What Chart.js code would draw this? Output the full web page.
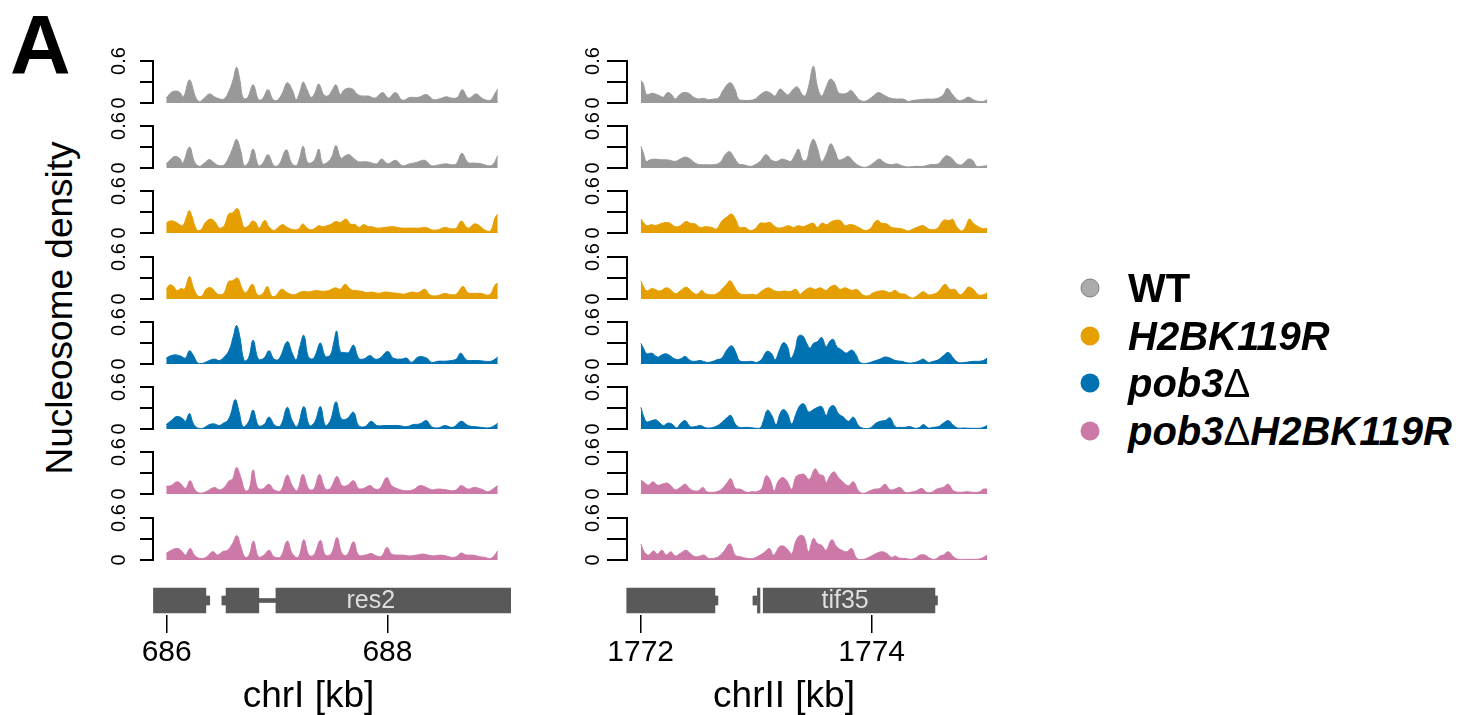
<!DOCTYPE html>
<html>
<head>
<meta charset="utf-8">
<script src="https://cdn.jsdelivr.net/npm/chart.js@4.4.1/dist/chart.umd.min.js"></script>
<style>
  html, body { margin: 0; padding: 0; background: #fff; }
  body { width: 1479px; height: 715px; position: relative; overflow: hidden;
         font-family: 'Liberation Sans', Arial, Helvetica, sans-serif; color: #000; }
  canvas { position: absolute; }
  #panel { position: absolute; left: 10px; top: 3px; font-size: 84px; font-weight: bold; line-height: 1; }
  #ylab { position: absolute; left: 60px; top: 308px; font-size: 37px; white-space: nowrap;
          transform: translate(-50%, -50%) rotate(-90deg); }
  .key { position: absolute; font-size: 40px; font-weight: bold; white-space: nowrap; line-height: 1;
         transform: translateY(-50%); }
  .key i { font-style: italic; }
  .key .delta { font-style: normal; font-weight: normal; }
  .dot { position: absolute; width: 19px; height: 19px; border-radius: 50%; box-sizing: border-box;
         transform: translate(-50%, -50%); }
</style>
</head>
<body>
<div id="panel">A</div>
<div id="ylab">Nucleosome density</div>
<script>
// strains, top to bottom two replicates each
const strains = ['WT', 'H2BK119R', 'pob3\u0394', 'pob3\u0394H2BK119R'];
const strainColors = ['#999999', '#E69F00', '#0072B2', '#CC79A7'];

const yTicks = [0, 0.3, 0.6];
const yTickLabels = ['0', '', '0.6'];

// windows (kb) and axis ticks
const startI = 686, startII = 1772;
const xTicksI = [686, 688], xTicksII = [1772, 1774];
const titleI = 'chrI [kb]', titleII = 'chrII [kb]';

// gene models [start, end] in kb
const exonsI = [[685.88, 686.355], [686.538, 686.835], [686.99, 689.12]];
const intronsI = [[686.835, 686.99]];
const endsI = [[686.355, 686.39], [686.50, 686.538]];
const geneNamesI = ['res2'], geneMidsI = [687.85];

const exonsII = [[1771.879, 1772.643], [1773.011, 1773.033], [1773.061, 1774.548]];
const intronsII = [];
const endsII = [[1772.643, 1772.669], [1772.972, 1773.007], [1774.548, 1774.57]];
const geneNamesII = ['tif35'], geneMidsII = [1773.77];

// nucleosome density, [bp from window start, density]
const chrI_WT_1 = [[0,.07],[45,.15],[84,.17],[120,.155],[156,.09],[210,.33],[264,.09],[300,.02],[345,.07],[390,.13],[435,.09],[480,.06],[525,.06],[570,.18],[606,.34],[636,.51],[666,.33],[696,.07],[735,.075],[786,.26],[834,.05],[870,.06],[921,.19],[966,.05],[1005,.04],[1050,.14],[1095,.29],[1140,.19],[1176,.05],[1209,.16],[1239,.30],[1275,.19],[1311,.08],[1344,.14],[1380,.27],[1425,.12],[1464,.10],[1500,.18],[1536,.26],[1575,.12],[1605,.18],[1644,.21],[1686,.20],[1725,.13],[1770,.10],[1830,.10],[1890,.07],[1959,.15],[2010,.07],[2076,.15],[2136,.04],[2205,.08],[2280,.08],[2355,.12],[2415,.05],[2475,.06],[2535,.09],[2580,.07],[2634,.08],[2679,.19],[2736,.07],[2805,.13],[2865,.06],[2934,.04],[2976,.14],[3000,.20]];
const chrI_WT_2 = [[0,.06],[45,.13],[75,.165],[120,.14],[150,.07],[210,.30],[255,.09],[300,.024],[345,.07],[390,.12],[435,.07],[480,.033],[525,.047],[570,.165],[600,.28],[636,.41],[675,.24],[705,.033],[744,.08],[786,.27],[834,.033],[870,.06],[921,.19],[975,.033],[1020,.047],[1086,.26],[1134,.07],[1176,.033],[1206,.14],[1239,.31],[1275,.09],[1305,.07],[1344,.12],[1380,.27],[1416,.06],[1464,.09],[1500,.165],[1536,.32],[1581,.14],[1620,.175],[1656,.19],[1695,.14],[1740,.09],[1800,.09],[1845,.08],[1905,.06],[1950,.13],[2004,.06],[2076,.11],[2136,.033],[2205,.06],[2265,.08],[2340,.11],[2400,.033],[2475,.047],[2535,.06],[2580,.047],[2625,.06],[2676,.21],[2730,.08],[2790,.07],[2850,.06],[2910,.033],[2955,.047],[3000,.175]];
const chrI_K119R_1 = [[0,.14],[30,.17],[75,.165],[120,.12],[150,.105],[186,.24],[207,.32],[228,.26],[276,.046],[315,.046],[354,.15],[405,.20],[450,.14],[480,.07],[525,.105],[564,.27],[600,.29],[645,.35],[675,.22],[705,.08],[744,.105],[780,.17],[810,.15],[840,.07],[891,.18],[930,.09],[975,.037],[1020,.09],[1056,.12],[1095,.08],[1155,.046],[1200,.06],[1236,.13],[1275,.07],[1320,.046],[1380,.105],[1416,.09],[1455,.105],[1485,.12],[1536,.165],[1575,.15],[1626,.20],[1665,.13],[1710,.12],[1746,.08],[1785,.12],[1830,.09],[1866,.09],[1905,.07],[1980,.08],[2055,.09],[2130,.07],[2220,.07],[2295,.07],[2355,.08],[2400,.046],[2460,.046],[2520,.08],[2580,.06],[2625,.07],[2670,.17],[2730,.07],[2790,.13],[2835,.105],[2880,.046],[2934,.03],[2976,.22],[3000,.27]];
const chrI_K119R_2 = [[0,.14],[30,.20],[66,.18],[96,.12],[135,.15],[165,.14],[210,.32],[246,.16],[285,.045],[324,.045],[360,.14],[405,.16],[450,.09],[486,.06],[525,.09],[564,.25],[600,.26],[645,.30],[684,.16],[720,.09],[780,.21],[825,.06],[870,.07],[915,.18],[954,.045],[990,.045],[1044,.14],[1095,.09],[1155,.06],[1200,.09],[1245,.11],[1290,.10],[1350,.12],[1410,.11],[1470,.12],[1530,.16],[1575,.14],[1620,.21],[1665,.14],[1710,.12],[1770,.11],[1815,.09],[1860,.10],[1920,.08],[1980,.10],[2040,.09],[2100,.08],[2160,.07],[2220,.10],[2280,.09],[2340,.14],[2385,.06],[2445,.045],[2520,.08],[2580,.06],[2625,.07],[2685,.18],[2730,.09],[2790,.08],[2850,.08],[2925,.06],[2976,.20],[3000,.23]];
const chrI_pob3_1 = [[0,.085],[45,.12],[90,.13],[135,.11],[174,.085],[210,.19],[246,.12],[285,.014],[330,.01],[375,.04],[435,.07],[480,.05],[525,.10],[570,.20],[606,.39],[636,.55],[666,.39],[705,.05],[744,.085],[786,.34],[834,.07],[885,.085],[930,.19],[975,.07],[1020,.07],[1095,.32],[1140,.155],[1176,.06],[1209,.25],[1245,.41],[1284,.11],[1320,.07],[1350,.13],[1395,.30],[1440,.11],[1485,.13],[1515,.30],[1542,.47],[1575,.18],[1614,.165],[1650,.165],[1695,.27],[1740,.085],[1785,.07],[1845,.12],[1890,.07],[1935,.085],[2004,.18],[2055,.085],[2130,.07],[2175,.085],[2220,.023],[2280,.10],[2355,.085],[2400,.023],[2460,.04],[2520,.04],[2580,.05],[2625,.07],[2664,.155],[2715,.06],[2760,.05],[2820,.05],[2880,.04],[2940,.04],[2976,.07],[3000,.10]];
const chrI_pob3_2 = [[0,.063],[45,.12],[96,.18],[150,.146],[174,.11],[210,.22],[246,.073],[285,.015],[330,.01],[390,.063],[435,.073],[480,.05],[516,.083],[555,.12],[585,.22],[624,.42],[660,.24],[696,.034],[744,.10],[786,.27],[834,.05],[885,.063],[930,.17],[984,.05],[1035,.05],[1095,.31],[1140,.12],[1185,.034],[1245,.32],[1296,.05],[1344,.10],[1395,.32],[1440,.05],[1485,.12],[1536,.39],[1584,.146],[1635,.146],[1695,.24],[1740,.05],[1800,.034],[1854,.11],[1905,.05],[1980,.05],[2040,.05],[2100,.05],[2175,.034],[2235,.063],[2295,.073],[2355,.12],[2400,.034],[2460,.015],[2520,.05],[2580,.024],[2610,.034],[2670,.11],[2730,.05],[2790,.034],[2850,.024],[2910,.015],[2955,.034],[3000,.083]];
const chrI_dbl_1 = [[0,.11],[45,.12],[96,.175],[135,.14],[174,.08],[216,.19],[255,.07],[300,.014],[360,.033],[435,.094],[480,.06],[525,.094],[570,.19],[600,.21],[636,.38],[675,.236],[714,.047],[750,.07],[786,.345],[825,.094],[870,.07],[930,.14],[975,.06],[1035,.047],[1095,.27],[1140,.12],[1185,.047],[1236,.28],[1290,.07],[1335,.07],[1386,.28],[1440,.07],[1485,.08],[1545,.25],[1590,.12],[1635,.12],[1695,.19],[1740,.08],[1785,.08],[1845,.12],[1890,.07],[1935,.08],[1995,.236],[2040,.12],[2100,.07],[2160,.047],[2235,.06],[2295,.12],[2355,.094],[2400,.06],[2460,.07],[2535,.06],[2580,.047],[2625,.06],[2670,.12],[2730,.07],[2790,.094],[2850,.07],[2910,.033],[2955,.07],[3000,.12]];
const chrI_dbl_2 = [[0,.094],[45,.14],[105,.165],[144,.12],[174,.07],[216,.165],[255,.07],[300,.024],[360,.038],[420,.12],[465,.07],[510,.12],[555,.14],[600,.236],[639,.35],[675,.19],[714,.038],[750,.07],[789,.27],[834,.047],[885,.07],[930,.14],[975,.047],[1035,.047],[1095,.27],[1140,.094],[1194,.038],[1245,.29],[1290,.07],[1335,.07],[1395,.28],[1440,.07],[1494,.094],[1545,.32],[1590,.094],[1635,.07],[1695,.26],[1740,.07],[1800,.07],[1854,.094],[1905,.057],[1950,.057],[1998,.18],[2040,.085],[2100,.07],[2145,.07],[2205,.057],[2265,.07],[2325,.085],[2370,.07],[2415,.057],[2475,.07],[2535,.057],[2580,.038],[2625,.047],[2670,.10],[2715,.07],[2775,.07],[2835,.047],[2880,.038],[2940,.024],[3000,.13]];

const chrII_WT_1 = [[0,.32],[17,.29],[38,.164],[52,.117],[95,.14],[124,.13],[167,.10],[196,.084],[231,.15],[268,.117],[297,.056],[335,.117],[369,.15],[413,.14],[456,.084],[499,.056],[543,.066],[586,.047],[629,.056],[672,.07],[716,.19],[773,.29],[817,.19],[846,.056],[889,.038],[947,.038],[990,.056],[1033,.117],[1085,.164],[1134,.13],[1163,.10],[1206,.20],[1250,.14],[1278,.117],[1322,.20],[1356,.23],[1394,.13],[1423,.10],[1452,.23],[1495,.525],[1530,.23],[1567,.10],[1605,.225],[1639,.34],[1674,.30],[1711,.15],[1749,.13],[1784,.14],[1818,.18],[1856,.117],[1885,.056],[1928,.023],[1971,.047],[2014,.10],[2058,.15],[2101,.117],[2159,.07],[2216,.056],[2274,.056],[2317,.023],[2361,.038],[2418,.047],[2476,.056],[2534,.056],[2577,.07],[2620,.117],[2655,.21],[2701,.117],[2750,.038],[2794,.047],[2837,.084],[2880,.047],[2924,.023],[2967,.023],[3000,.047]];
const chrII_WT_2 = [[0,.31],[23,.21],[46,.094],[81,.118],[124,.127],[167,.118],[211,.118],[254,.11],[297,.094],[341,.127],[384,.156],[427,.127],[470,.07],[514,.047],[571,.047],[629,.047],[687,.08],[730,.19],[768,.236],[802,.165],[846,.06],[889,.047],[947,.024],[990,.047],[1033,.094],[1085,.19],[1134,.11],[1177,.094],[1221,.127],[1264,.11],[1299,.094],[1336,.19],[1365,.27],[1403,.11],[1437,.118],[1466,.31],[1495,.41],[1530,.28],[1567,.094],[1605,.19],[1645,.345],[1683,.236],[1711,.118],[1749,.127],[1798,.165],[1841,.094],[1899,.024],[1957,.014],[2014,.07],[2066,.127],[2115,.07],[2173,.047],[2216,.06],[2260,.033],[2317,.014],[2375,.024],[2447,.024],[2505,.047],[2577,.06],[2620,.14],[2649,.175],[2693,.14],[2736,.06],[2779,.047],[2837,.127],[2874,.11],[2909,.024],[2952,.024],[3000,.033]];
const chrII_K119R_1 = [[0,.20],[23,.15],[52,.105],[95,.12],[124,.105],[167,.13],[219,.15],[254,.14],[297,.09],[341,.105],[392,.165],[427,.14],[470,.13],[514,.08],[557,.09],[615,.08],[658,.06],[701,.17],[745,.23],[788,.27],[825,.18],[854,.08],[903,.08],[947,.037],[990,.06],[1033,.14],[1076,.14],[1120,.15],[1163,.09],[1206,.07],[1279,.105],[1322,.08],[1365,.105],[1408,.09],[1452,.12],[1495,.14],[1530,.08],[1567,.14],[1610,.12],[1654,.165],[1726,.18],[1769,.105],[1812,.12],[1856,.105],[1899,.07],[1942,.037],[1986,.06],[2043,.18],[2087,.14],[2130,.13],[2173,.08],[2216,.07],[2260,.06],[2317,.03],[2361,.06],[2404,.09],[2447,.105],[2491,.06],[2534,.046],[2577,.08],[2620,.18],[2678,.18],[2701,.20],[2736,.09],[2779,.03],[2808,.07],[2846,.20],[2880,.14],[2924,.09],[2967,.06],[3000,.07]];
const chrII_K119R_2 = [[0,.26],[29,.16],[52,.114],[95,.15],[124,.137],[167,.114],[219,.16],[254,.137],[297,.077],[341,.114],[392,.17],[442,.105],[485,.068],[528,.123],[557,.077],[615,.06],[658,.077],[701,.137],[739,.205],[773,.26],[808,.18],[846,.09],[903,.06],[961,.068],[1004,.06],[1048,.114],[1105,.16],[1149,.123],[1192,.105],[1250,.114],[1293,.105],[1345,.137],[1379,.068],[1414,.114],[1466,.16],[1509,.137],[1553,.16],[1605,.123],[1639,.17],[1683,.196],[1726,.137],[1769,.16],[1827,.123],[1870,.137],[1922,.06],[1971,.045],[2014,.09],[2072,.114],[2115,.114],[2159,.09],[2202,.123],[2245,.077],[2289,.068],[2332,.023],[2361,.014],[2404,.06],[2447,.105],[2491,.06],[2534,.068],[2577,.105],[2635,.21],[2678,.137],[2721,.137],[2765,.06],[2808,.114],[2837,.17],[2880,.137],[2924,.06],[2967,.06],[3000,.09]];
const chrII_pob3_1 = [[0,.295],[23,.225],[52,.145],[95,.155],[144,.10],[182,.13],[219,.145],[254,.117],[297,.07],[341,.07],[384,.108],[427,.05],[470,.038],[514,.05],[571,.023],[615,.033],[658,.06],[701,.084],[745,.20],[788,.26],[825,.155],[854,.05],[903,.033],[961,.038],[1004,.023],[1048,.07],[1091,.18],[1134,.145],[1163,.06],[1201,.20],[1235,.305],[1270,.25],[1299,.084],[1336,.20],[1365,.40],[1403,.40],[1437,.295],[1466,.225],[1495,.295],[1530,.32],[1567,.38],[1605,.25],[1639,.33],[1668,.35],[1697,.25],[1740,.20],[1778,.155],[1827,.20],[1864,.13],[1899,.023],[1957,.01],[2014,.038],[2072,.07],[2115,.10],[2159,.084],[2202,.05],[2260,.038],[2317,.014],[2375,.023],[2418,.05],[2447,.07],[2491,.023],[2534,.038],[2577,.06],[2620,.117],[2664,.165],[2707,.084],[2750,.023],[2808,.023],[2880,.038],[2924,.038],[2967,.05],[3000,.084]];
const chrII_pob3_2 = [[0,.31],[29,.16],[52,.10],[95,.12],[133,.13],[167,.083],[196,.05],[231,.083],[268,.073],[312,.015],[341,.073],[384,.12],[427,.034],[470,.034],[514,.05],[571,.015],[629,.024],[687,.073],[745,.16],[779,.195],[817,.073],[854,.024],[918,.024],[975,.015],[1033,.015],[1062,.12],[1097,.27],[1134,.195],[1172,.063],[1206,.22],[1235,.28],[1270,.22],[1307,.073],[1345,.22],[1380,.34],[1414,.356],[1452,.244],[1489,.27],[1530,.31],[1567,.32],[1605,.195],[1639,.31],[1674,.33],[1711,.22],[1755,.17],[1798,.11],[1841,.17],[1885,.05],[1928,.01],[1986,.015],[2029,.073],[2072,.11],[2115,.12],[2159,.16],[2202,.034],[2245,.024],[2289,.024],[2332,.034],[2375,.01],[2418,.024],[2447,.063],[2491,.015],[2534,.024],[2577,.034],[2620,.083],[2664,.12],[2701,.063],[2742,.015],[2794,.015],[2851,.01],[2909,.01],[2952,.015],[3000,.05]];
const chrII_dbl_1 = [[0,.20],[29,.165],[66,.127],[104,.175],[144,.127],[182,.14],[225,.156],[260,.118],[297,.06],[341,.094],[384,.14],[421,.08],[456,.047],[499,.047],[537,.094],[571,.033],[615,.024],[658,.033],[701,.07],[745,.156],[779,.22],[817,.08],[860,.07],[918,.024],[961,.033],[1004,.033],[1048,.08],[1085,.26],[1120,.20],[1154,.047],[1192,.19],[1229,.236],[1264,.19],[1307,.07],[1345,.25],[1385,.28],[1414,.28],[1460,.21],[1509,.36],[1547,.28],[1582,.26],[1605,.165],[1639,.26],[1674,.316],[1711,.236],[1755,.165],[1798,.118],[1841,.175],[1885,.047],[1928,.01],[1986,.047],[2029,.07],[2072,.08],[2115,.14],[2159,.06],[2202,.07],[2245,.094],[2289,.024],[2332,.024],[2390,.047],[2433,.08],[2476,.024],[2519,.024],[2563,.07],[2620,.094],[2664,.14],[2707,.047],[2765,.024],[2823,.033],[2880,.024],[2938,.033],[2967,.07],[3000,.07]];
const chrII_dbl_2 = [[0,.23],[29,.118],[66,.07],[110,.13],[144,.085],[182,.14],[219,.07],[260,.118],[297,.057],[341,.094],[392,.14],[433,.085],[470,.047],[514,.057],[548,.07],[586,.024],[629,.024],[672,.047],[716,.118],[773,.23],[817,.07],[860,.047],[918,.024],[975,.024],[1033,.07],[1076,.118],[1114,.165],[1149,.07],[1201,.19],[1235,.20],[1278,.14],[1307,.085],[1345,.28],[1380,.35],[1414,.33],[1452,.118],[1495,.31],[1530,.236],[1567,.21],[1605,.14],[1654,.29],[1697,.19],[1740,.14],[1784,.118],[1827,.165],[1870,.024],[1928,.01],[1986,.047],[2029,.085],[2087,.118],[2130,.094],[2173,.038],[2202,.057],[2245,.024],[2289,.024],[2332,.01],[2375,.024],[2418,.07],[2462,.07],[2505,.024],[2548,.01],[2592,.057],[2620,.07],[2664,.118],[2707,.047],[2750,.01],[2823,.01],[2909,.01],[2952,.024],[3000,.07]];

const tracksI = [chrI_WT_1, chrI_WT_2, chrI_K119R_1, chrI_K119R_2, chrI_pob3_1, chrI_pob3_2, chrI_dbl_1, chrI_dbl_2];
const tracksII = [chrII_WT_1, chrII_WT_2, chrII_K119R_1, chrII_K119R_2, chrII_pob3_1, chrII_pob3_2, chrII_dbl_1, chrII_dbl_2];

const FONT = "'Liberation Sans', Arial, Helvetica, sans-serif";
Chart.defaults.font.family = FONT;
Chart.defaults.color = '#000';

function addCanvas(left, top, width, height) {
  const c = document.createElement('canvas');
  c.width = width; c.height = height;
  c.style.left = left + 'px'; c.style.top = top + 'px';
  c.style.width = width + 'px'; c.style.height = height + 'px';
  document.body.appendChild(c);
  return c;
}

// one filled density track with its little 0..0.6 bracket axis
function densityTrack(canvas, series, color, x0, tickLen, labelPad) {
  return new Chart(canvas, {
    type: 'line',
    data: {
      datasets: [{
        data: series.map(p => ({ x: x0 + p[0] / 1000, y: p[1] })),
        borderColor: color,
        backgroundColor: color,
        borderWidth: 1,
        pointRadius: 0,
        fill: 'origin',
        tension: 0.4
      }]
    },
    options: {
      responsive: false,
      animation: false,
      devicePixelRatio: 1,
      events: [],
      layout: { padding: { top: 20, bottom: 20, left: 0, right: 10 } },
      plugins: { legend: { display: false }, tooltip: { enabled: false } },
      scales: {
        x: { type: 'linear', display: false, min: x0 - 0.12, max: x0 + 3.12 },
        y: {
          min: 0, max: 0.6,
          afterFit: s => { s.width = 60; },
          afterBuildTicks: s => { s.ticks = yTicks.map(v => ({ value: v })); },
          border: { color: '#000', width: 2 },
          grid: { drawOnChartArea: false, tickLength: tickLen, color: '#000', lineWidth: 2 },
          ticks: {
            autoSkip: false, minRotation: 90, maxRotation: 90, crossAlign: 'center',
            padding: labelPad, color: '#000', font: { size: 20 },
            callback: (v, i) => yTickLabels[i]
          }
        }
      }
    }
  });
}

// gene model strip with the genomic axis under it
function geneTrack(canvas, exons, introns, ends, names, mids, xMin, xMax, ticks, title, padL, padR) {
  const bar = (r, thick) => ({
    data: [r], backgroundColor: '#595959', barThickness: thick, grouped: false, borderWidth: 0
  });
  const nameLabels = {
    id: 'geneNames',
    afterDatasetsDraw(chart) {
      const { ctx, scales: { x, y } } = chart;
      ctx.save();
      ctx.font = '25px ' + FONT;
      ctx.fillStyle = '#dedede';
      ctx.textAlign = 'center';
      ctx.textBaseline = 'middle';
      names.forEach((n, i) => ctx.fillText(n, x.getPixelForValue(mids[i]), y.getPixelForValue(0) + 1));
      ctx.restore();
    }
  };
  return new Chart(canvas, {
    type: 'bar',
    data: {
      labels: [''],
      datasets: [
        ...introns.map(r => bar(r, 4)),
        ...ends.map(r => bar(r, 9)),
        ...exons.map(r => bar(r, 25))
      ]
    },
    options: {
      indexAxis: 'y',
      responsive: false,
      animation: false,
      devicePixelRatio: 1,
      events: [],
      layout: { padding: { top: 16, bottom: 0, left: padL, right: padR } },
      plugins: { legend: { display: false }, tooltip: { enabled: false } },
      scales: {
        y: { display: false },
        x: {
          type: 'linear', position: 'bottom', min: xMin, max: xMax,
          afterFit: s => { s.height = 100; },
          afterBuildTicks: s => { s.ticks = ticks.map(v => ({ value: v })); },
          border: { display: false },
          grid: { drawOnChartArea: false, tickLength: 18, color: '#000', lineWidth: 1.5 },
          ticks: { padding: 2, color: '#000', font: { size: 30 }, callback: v => String(v) },
          title: { display: true, text: title, color: '#000', font: { size: 37, lineHeight: 1 }, padding: 0 }
        }
      }
    },
    plugins: [nameLabels]
  });
}

// 8 stacked rows per column
for (let i = 0; i < 8; i++) {
  const y0 = Math.round(102.7 + 65.3 * i);
  const color = strainColors[Math.floor(i / 2)];
  densityTrack(addCanvas(93, y0 - 62, 428, 82), tracksI[i], color, startI, 13, 7);
  densityTrack(addCanvas(567, y0 - 62, 444, 82), tracksII[i], color, startII, 20, 0);
}

geneTrack(addCanvas(60, 570, 470, 145), exonsI, intronsI, endsI, geneNamesI, geneMidsI,
  685.45, 689.12, xTicksI, titleI, 46, 19);
geneTrack(addCanvas(520, 570, 500, 145), exonsII, intronsII, endsII, geneNamesII, geneMidsII,
  1771.362, 1775.12, xTicksII, titleII, 47, 19);

// strain key
const keyY = [288, 336, 383, 431];
strains.forEach((name, i) => {
  const dot = document.createElement('div');
  dot.className = 'dot';
  dot.style.left = '1090px';
  dot.style.top = keyY[i] + 'px';
  dot.style.background = i === 0 ? '#ababab' : strainColors[i];
  if (i === 0) dot.style.border = '1.5px solid #7d7d7d';
  document.body.appendChild(dot);

  const txt = document.createElement('div');
  txt.className = 'key';
  txt.style.left = '1128px';
  txt.style.top = keyY[i] + 'px';
  if (i === 0) {
    txt.textContent = name;
  } else {
    txt.innerHTML = name.split('\u0394').map(s => s ? '<i>' + s + '</i>' : '')
      .join('<span class="delta">\u0394</span>');
  }
  document.body.appendChild(txt);
});
</script>
</body>
</html>
